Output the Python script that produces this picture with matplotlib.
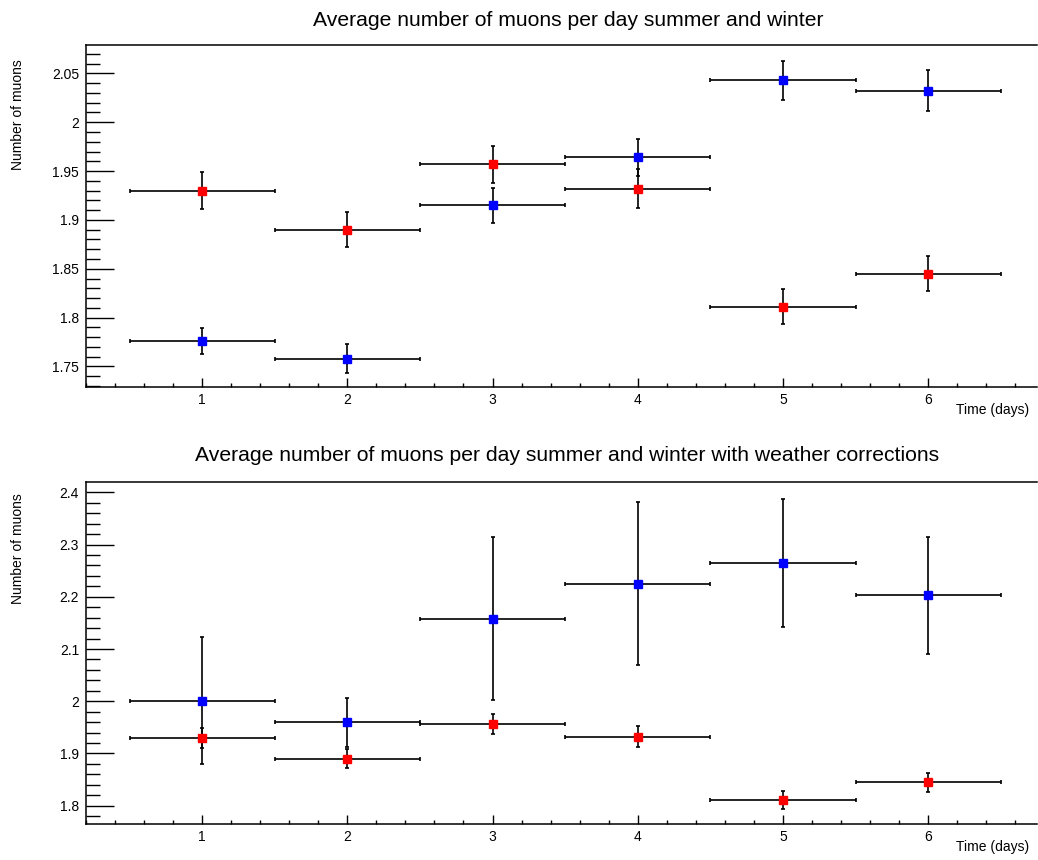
import numpy as np
import matplotlib
matplotlib.use("Agg")
import matplotlib.pyplot as plt
from matplotlib.ticker import MultipleLocator

plt.rcParams['font.family'] = ['Liberation Sans', 'DejaVu Sans']

# days of the week bins
days = [1, 2, 3, 4, 5, 6]
day_half_width = [0.5, 0.5, 0.5, 0.5, 0.5, 0.5]

# summer (red) - same in both panels
summer = [1.930, 1.890, 1.957, 1.932, 1.811, 1.845]
summer_err = [0.019, 0.018, 0.019, 0.020, 0.018, 0.018]

# winter (blue), raw
winter = [1.776, 1.758, 1.915, 1.964, 2.043, 2.032]
winter_err = [0.013, 0.015, 0.018, 0.019, 0.020, 0.021]

# winter (blue), weather corrected
winter_corr = [2.001, 1.960, 2.158, 2.225, 2.265, 2.203]
winter_corr_err = [0.122, 0.047, 0.156, 0.156, 0.123, 0.112]

titles = ["Average number of muons per day summer and winter",
          "Average number of muons per day summer and winter with weather corrections"]

W, H = 1038, 860
fig = plt.figure(figsize=(W / 100, H / 100), dpi=100)

ax1 = fig.add_axes([86 / W, 1 - 387 / H, 951 / W, 342 / H])
ax2 = fig.add_axes([86 / W, 1 - 824.3 / H, 951 / W, 342.3 / H])


def draw_pair(ax, blue, blue_err, red, red_err):
    for y, yerr, col in [(blue, blue_err, 'blue'), (red, red_err, 'red')]:
        ax.errorbar(days, y, xerr=day_half_width, yerr=yerr, fmt='s',
                    color=col, mec=col, ms=5.3, ecolor='black',
                    elinewidth=1.2, capsize=1.6, capthick=1.2, zorder=3)


def style(ax, ylim, major, minor):
    ax.set_xlim(0.2, 6.75)
    ax.set_ylim(*ylim)
    ax.xaxis.set_major_locator(MultipleLocator(1))
    ax.xaxis.set_minor_locator(MultipleLocator(0.2))
    ax.yaxis.set_major_locator(MultipleLocator(major))
    ax.yaxis.set_minor_locator(MultipleLocator(minor))
    ax.tick_params(axis='y', which='major', direction='in', length=20.5, width=1.0,
                   labelsize=10, pad=5)
    ax.tick_params(axis='y', which='minor', direction='in', length=10.3, width=1.0)
    ax.tick_params(axis='x', which='major', direction='in', length=6.8, width=1.0,
                   labelsize=10, pad=4)
    ax.tick_params(axis='x', which='minor', direction='in', length=3.0, width=1.0)
    ax.spines['right'].set_visible(False)
    for s in ['left', 'bottom', 'top']:
        ax.spines[s].set_linewidth(1.1)
    ax.yaxis.set_major_formatter(plt.FuncFormatter(lambda v, p: ('%g' % round(v, 3))))


draw_pair(ax1, winter, winter_err, summer, summer_err)
style(ax1, (1.729, 2.079), 0.05, 0.01)

draw_pair(ax2, winter_corr, winter_corr_err, summer, summer_err)
style(ax2, (1.7644, 2.4198), 0.1, 0.02)

# titles and axis labels
fig.text(568 / W, 1 - 20 / H, titles[0], ha='center', va='center', fontsize=15.2)
fig.text(567 / W, 1 - 455 / H, titles[1], ha='center', va='center', fontsize=15.2)

for top in [59, 493]:
    fig.text(18 / W, 1 - top / H, "Number of muons", rotation=90,
             ha='center', va='top', fontsize=10)
for yc in [410, 847]:
    fig.text(1029 / W, 1 - yc / H, "Time (days)", ha='right', va='center', fontsize=10)

fig.savefig("out.png", dpi=100)
